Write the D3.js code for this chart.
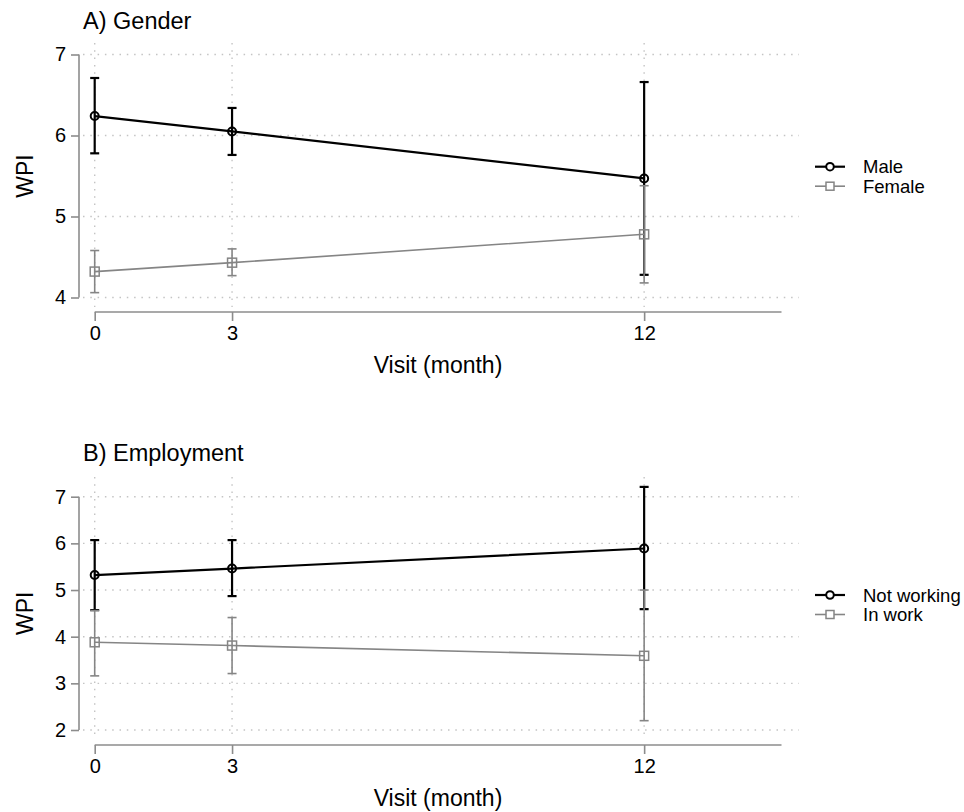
<!DOCTYPE html>
<html>
<head>
<meta charset="utf-8">
<script src="https://cdn.jsdelivr.net/npm/d3@7"></script>
<style>
  body { margin: 0; background: #fff; }
  svg { display: block; font-family: "Liberation Sans", Arial, sans-serif; }
</style>
</head>
<body>
<svg id="chart" width="964" height="812"></svg>
<script>
// Visits (months) and axis ticks
const visits = [0, 3, 12];
const xTicks = [0, 3, 12];

// Panel A: gender
const genderTicks = [4, 5, 6, 7];
const maleMean = [6.24, 6.05, 5.47];
const maleLow = [5.78, 5.76, 4.28];
const maleHigh = [6.71, 6.34, 6.66];
const femaleMean = [4.32, 4.43, 4.78];
const femaleLow = [4.06, 4.27, 4.18];
const femaleHigh = [4.58, 4.60, 5.38];

// Panel B: employment
const employTicks = [2, 3, 4, 5, 6, 7];
const notWorkingMean = [5.32, 5.46, 5.89];
const notWorkingLow = [4.57, 4.87, 4.59];
const notWorkingHigh = [6.07, 6.07, 7.21];
const inWorkMean = [3.88, 3.81, 3.59];
const inWorkLow = [3.16, 3.21, 2.20];
const inWorkHigh = [4.56, 4.41, 5.00];

const panels = [
  {
    title: "A) Gender", titleY: 28.5, legendY: 166.7, yTicks: genderTicks,
    yTop: 54.5, yBottom: 297.5, xAxisY: 312, gridTop: 43, gridBottom: 307,
    series: [
      { name: "Male", mean: maleMean, low: maleLow, high: maleHigh, dark: true },
      { name: "Female", mean: femaleMean, low: femaleLow, high: femaleHigh, dark: false }
    ]
  },
  {
    title: "B) Employment", titleY: 461, legendY: 595, yTicks: employTicks,
    yTop: 496.7, yBottom: 730, xAxisY: 745, gridTop: 477, gridBottom: 738,
    series: [
      { name: "Not working", mean: notWorkingMean, low: notWorkingLow, high: notWorkingHigh, dark: true },
      { name: "In work", mean: inWorkMean, low: inWorkLow, high: inWorkHigh, dark: false }
    ]
  }
];

const svg = d3.select("#chart");
const axisGray = "#8c8c8c";
const gridGray = "#c4c4c4";
const styleOf = dark => dark
  ? { color: "#000000", width: 2.2 }
  : { color: "#858585", width: 1.6 };

const x = d3.scaleLinear().domain([0, 15]).range([94.7, 781.5]);
const gridLeft = 83, gridRight = 799;
const yAxisX = 79;

panels.forEach(p => {
  const g = svg.append("g");
  const yMin = d3.min(p.yTicks), yMax = d3.max(p.yTicks);
  const y = d3.scaleLinear().domain([yMin, yMax]).range([p.yBottom, p.yTop]);

  // title
  g.append("text").attr("x", 83).attr("y", p.titleY)
    .attr("font-size", 23.5).attr("fill", "#000").text(p.title);

  // dotted grid
  g.selectAll("line.hgrid").data(p.yTicks).join("line")
    .attr("x1", gridLeft).attr("x2", gridRight)
    .attr("y1", d => y(d)).attr("y2", d => y(d))
    .attr("stroke", gridGray).attr("stroke-width", 1.4)
    .attr("stroke-dasharray", "1.5,5.8");
  g.selectAll("line.vgrid").data(xTicks).join("line")
    .attr("x1", d => x(d)).attr("x2", d => x(d))
    .attr("y1", p.gridTop).attr("y2", p.gridBottom)
    .attr("stroke", gridGray).attr("stroke-width", 1.4)
    .attr("stroke-dasharray", "1.5,5.8");

  // y axis
  const yAxis = g.append("g").attr("transform", `translate(${yAxisX},0)`)
    .call(d3.axisLeft(y).tickValues(p.yTicks).tickSize(8).tickPadding(5).tickFormat(d3.format("d")));
  yAxis.select(".domain").attr("stroke", axisGray).attr("stroke-width", 1.6)
    .attr("d", `M0,${y(yMin)}V${y(yMax)}`);
  yAxis.selectAll(".tick line").attr("stroke", axisGray).attr("stroke-width", 1.6);
  yAxis.selectAll(".tick text").attr("font-size", 20).attr("fill", "#000")
    .attr("font-family", "Liberation Sans, Arial, sans-serif");

  // x axis
  const xAxis = g.append("g").attr("transform", `translate(0,${p.xAxisY})`)
    .call(d3.axisBottom(x).tickValues(xTicks).tickSize(9).tickPadding(5).tickFormat(d3.format("d")));
  xAxis.select(".domain").attr("stroke", axisGray).attr("stroke-width", 1.6)
    .attr("d", `M${x(0)},0H${x(15)}`);
  xAxis.selectAll(".tick line").attr("stroke", axisGray).attr("stroke-width", 1.6);
  xAxis.selectAll(".tick text").attr("font-size", 20).attr("fill", "#000")
    .attr("font-family", "Liberation Sans, Arial, sans-serif");

  // axis titles
  g.append("text").attr("x", 438).attr("y", p.xAxisY + 61)
    .attr("text-anchor", "middle").attr("font-size", 23).attr("fill", "#000")
    .text("Visit (month)");
  g.append("text")
    .attr("transform", `translate(33,${(y(yMin) + y(yMax)) / 2}) rotate(-90)`)
    .attr("text-anchor", "middle").attr("font-size", 23).attr("fill", "#000")
    .text("WPI");

  // series: confidence bars, connecting lines and markers
  const line = d3.line().x((d, i) => x(visits[i])).y(d => y(d));
  p.series.forEach(s => {
    const st = styleOf(s.dark);
    const sg = g.append("g");
    sg.selectAll("line.ci").data(visits).join("line")
      .attr("x1", d => x(d)).attr("x2", d => x(d))
      .attr("y1", (d, i) => y(s.low[i])).attr("y2", (d, i) => y(s.high[i]))
      .attr("stroke", st.color).attr("stroke-width", st.width);
    ["low", "high"].forEach(k => {
      sg.selectAll("line.cap-" + k).data(visits).join("line")
        .attr("x1", d => x(d) - 4.5).attr("x2", d => x(d) + 4.5)
        .attr("y1", (d, i) => y(s[k][i])).attr("y2", (d, i) => y(s[k][i]))
        .attr("stroke", st.color).attr("stroke-width", st.width);
    });
    sg.append("path").datum(s.mean).attr("d", line)
      .attr("fill", "none").attr("stroke", st.color).attr("stroke-width", st.width);
    if (s.dark) {
      sg.selectAll("circle").data(visits).join("circle")
        .attr("cx", d => x(d)).attr("cy", (d, i) => y(s.mean[i])).attr("r", 4)
        .attr("fill", "#fff").attr("fill-opacity", 0).attr("stroke", st.color).attr("stroke-width", 2);
    } else {
      sg.selectAll("rect").data(visits).join("rect")
        .attr("x", d => x(d) - 4.5).attr("y", (d, i) => y(s.mean[i]) - 4.5)
        .attr("width", 9).attr("height", 9)
        .attr("fill", "none").attr("stroke", st.color).attr("stroke-width", 1.5);
    }
  });

  // legend
  p.series.forEach((s, i) => {
    const st = styleOf(s.dark);
    const ly = p.legendY + i * 19.5;
    const lg = g.append("g");
    lg.append("line").attr("x1", 815).attr("x2", 845).attr("y1", ly).attr("y2", ly)
      .attr("stroke", st.color).attr("stroke-width", st.width);
    if (s.dark) {
      lg.append("circle").attr("cx", 830).attr("cy", ly).attr("r", 3.8)
        .attr("fill", "#fff").attr("stroke", st.color).attr("stroke-width", 2);
    } else {
      lg.append("rect").attr("x", 826).attr("y", ly - 4).attr("width", 8).attr("height", 8)
        .attr("fill", "#fff").attr("stroke", st.color).attr("stroke-width", 1.5);
    }
    lg.append("text").attr("x", 863).attr("y", ly + 6.5)
      .attr("font-size", 18.5).attr("fill", "#000").text(s.name);
  });
});
</script>
</body>
</html>
